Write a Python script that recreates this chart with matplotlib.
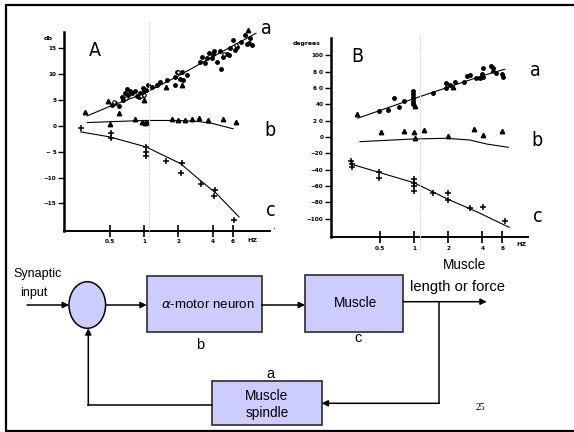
import matplotlib
matplotlib.use('Agg')
import matplotlib.pyplot as plt
from matplotlib.patches import Ellipse, Rectangle
import numpy as np

# ---------------- Panel A : gain (dB) vs frequency (Hz) ----------------
A_a_circ_f = [0.522, 0.639, 0.659, 0.706, 0.73, 0.781, 0.835, 0.864, 0.923, 0.974, 1.05, 1.09,
              1.17, 1.29, 1.38, 1.58, 1.87, 1.93, 2.13, 1.87, 2.36, 3.08, 3.19, 3.53, 3.9, 4.03,
              4.3, 4.6, 4.7, 4.93, 5.27, 5.63, 6.02, 6.45, 7.1, 7.6, 7.9, 8.4, 8.7,
              0.56, 0.6, 0.68, 0.75, 0.9, 0.97, 1.0, 2.05, 2.2, 3.4, 3.7, 4.1, 5.5, 6.2, 8.2]
A_a_circ_db = [3.95, 5.55, 4.9, 7.0, 5.9, 6.2, 6.65, 5.75, 6.2, 7.2, 6.85, 7.8,
               7.5, 7.8, 8.45, 8.8, 9.4, 10.4, 10.4, 7.9, 9.7, 12.3, 13.3, 12.95, 12.95, 13.9,
               12.3, 14.4, 11.0, 13.3, 13.9, 14.9, 16.5, 15.2, 16.2, 17.4, 15.8, 16.8, 15.5,
               4.4, 3.7, 6.2, 6.6, 5.5, 5.9, 6.6, 9.0, 8.8, 12.0, 14.0, 14.3, 13.6, 14.5, 16.0]
A_a_open_f = [0.55, 0.7, 0.95, 1.0, 2.0, 5.0, 6.3]
A_a_open_db = [4.6, 5.4, 5.8, 6.0, 10.4, 13.8, 15.6]
A_a_tri_f = [0.305, 0.488, 0.608, 1.0, 1.56, 2.13, 8.1]
A_a_tri_db = [2.54, 4.72, 2.35, 5.0, 7.5, 7.8, 18.4]
A_a_line_f = [0.32, 0.5, 1.0, 2.0, 4.0, 9.5]
A_a_line_db = [1.9, 3.7, 6.2, 9.6, 13.3, 17.8]

A_b_tri_f = [0.505, 0.835, 0.954, 1.02, 1.07, 1.74, 1.99, 2.29, 2.64, 3.04, 3.65, 4.93, 6.33]
A_b_tri_db = [0.3, 1.2, 0.73, 0.6, 0.73, 1.2, 1.06, 1.06, 1.2, 1.39, 1.06, 1.25, 0.73]
A_b_line_f = [0.32, 1.0, 2.0, 3.0, 4.0, 6.0]
A_b_line_db = [0.6, 1.0, 1.0, 0.8, 0.4, -0.6]

A_c_plus_f = [0.282, 0.515, 0.515, 1.04, 1.04, 1.04, 1.56, 2.13, 2.12, 3.17, 4.17, 4.08, 6.14]
A_c_plus_db = [-0.42, -1.39, -2.47, -4.09, -5.17, -5.88, -6.79, -7.17, -9.1, -11.3, -12.4, -13.6, -18.1]
A_c_line_f = [0.28, 0.5, 1.04, 2.08, 3.08, 4.3, 6.76]
A_c_line_db = [-1.2, -2.16, -4.09, -7.3, -10.5, -13.1, -17.6]

A_yticks = [15, 10, 5, 0, -5, -10, -15]
A_yticklabels = ['15', '10', '5', '0', '\u2212 5', '\u221210', '\u221215']

# ---------------- Panel B : phase (degrees) vs frequency (Hz) ----------------
B_a_circ_f = [0.495, 0.594, 0.666, 0.742, 0.821, 0.974, 0.974, 0.974, 0.974, 0.974, 0.974, 1.48,
              1.91, 1.91, 2.07, 2.30, 2.76, 2.91, 3.11, 3.51, 3.95, 4.03, 3.81, 4.08, 4.74,
              4.94, 5.27, 5.93, 6.04]
B_a_circ_deg = [31.8, 32.7, 47.4, 37.1, 44.5, 56.7, 52.3, 49.4, 46.5, 43.2, 40.0, 54.3,
                65.8, 60.4, 63.7, 67.7, 67.7, 75.1, 75.9, 72.6, 76.8, 84.9, 71.9, 73.9, 87.3,
                84.1, 78.8, 76.8, 73.9]
B_a_tri_f = [0.313, 1.02, 2.22, 4.94]
B_a_tri_deg = [27.8, 38.0, 61.6, 82.0]
B_a_line_f = [0.32, 1.0, 2.0, 4.0, 6.3]
B_a_line_deg = [23, 47, 61, 75, 83]

B_b_tri_f = [0.508, 0.821, 1.0, 1.02, 1.22, 1.98, 3.38, 4.08, 5.99]
B_b_tri_deg = [5.7, 7.7, 5.7, -0.8, 8.6, 1.2, 9.4, 2.4, 7.7]
B_b_line_f = [0.335, 0.99, 1.94, 3.11, 4.37, 6.78]
B_b_line_deg = [-5.7, -2.4, -1.6, -3.7, -8.6, -12.6]

B_c_plus_f = [0.277, 0.283, 0.283, 0.495, 0.495, 1.0, 1.0, 1.0, 1.0, 1.48, 2.0, 2.0, 3.11, 4.03, 6.33]
B_c_plus_deg = [-29.0, -33.1, -36.3, -43.3, -50.6, -51.8, -56.0, -60.0, -65.8, -68.2, -68.2,
                -77.2, -87.3, -85.4, -102.5]
B_c_line_f = [0.277, 1.0, 2.0, 3.57, 6.9]
B_c_line_deg = [-33, -56, -76.3, -91.5, -110.6]

B_yticks = [100, 80, 60, 40, 20, 0, -20, -40, -60, -80, -100]
B_yticklabels = ['100', '8 0', '6 0', '40', '2 0', '0', '\u221220', '\u221240', '\u221260', '\u221280', '\u2212100']

x_ticks = [0.5, 1, 2, 4, 6]
x_ticklabels = ['0.5', '1', '2', '4', '6']

# ---------------- figure ----------------
W, H = 574, 432
fig = plt.figure(figsize=(W / 100, H / 100), dpi=100)
fig.patch.set_facecolor('white')

COND = dict(family='DejaVu Sans', stretch='condensed')
TICKFONT = dict(family='DejaVu Sans', weight='bold', size=4.6, stretch='condensed')


def px_axes(x0, y0, x1, y1):
    return fig.add_axes([x0 / W, 1 - y1 / H, (x1 - x0) / W, (y1 - y0) / H])


def style_axes(ax, ylim, ytop, yticks, yticklabels):
    ax.set_xscale('log')
    ax.set_ylim(*ylim)
    ax.spines['top'].set_visible(False)
    ax.spines['right'].set_visible(False)
    ax.spines['left'].set_linewidth(1.8)
    ax.spines['bottom'].set_linewidth(1.4)
    ax.spines['left'].set_bounds(ylim[0], ytop)
    ax.set_xticks(x_ticks)
    ax.set_xticklabels(x_ticklabels, fontdict=TICKFONT)
    ax.xaxis.set_minor_locator(matplotlib.ticker.NullLocator())
    ax.set_yticks(yticks)
    ax.set_yticklabels(yticklabels, fontdict=TICKFONT)
    ax.tick_params(axis='y', direction='out', length=4.5, width=1.0, pad=1)
    ax.tick_params(axis='x', direction='inout', length=8, width=1.2, pad=2)
    ax.patch.set_alpha(0)


mk = dict(color='black', linestyle='none', clip_on=False)

# Panel A
axA = px_axes(64, 25, 270, 231)
axA.set_xlim(0.2, 12.6)
style_axes(axA, (-20.3, 19.4), 18.0, A_yticks, A_yticklabels)
axA.plot(A_a_line_f, A_a_line_db, color='black', lw=0.8)
axA.plot(A_b_line_f, A_b_line_db, color='black', lw=0.8)
axA.plot(A_c_line_f, A_c_line_db, color='black', lw=0.8)
axA.plot(A_a_circ_f, A_a_circ_db, marker='o', markersize=2.5, **mk)
axA.plot(A_a_open_f, A_a_open_db, marker='o', markersize=2.5, markerfacecolor='white',
         markeredgewidth=0.8, **mk)
axA.plot(A_a_tri_f, A_a_tri_db, marker='^', markersize=3.2, **mk)
axA.plot(A_b_tri_f, A_b_tri_db, marker='^', markersize=3.2, **mk)
axA.plot(A_c_plus_f, A_c_plus_db, marker='+', markersize=4.5, markeredgewidth=1.1, **mk)

# Panel B
axB = px_axes(331, 35, 528, 237.3)
axB.set_xlim(0.186, 10.1)
style_axes(axB, (-122.8, 124.9), 120.9, B_yticks, B_yticklabels)
axB.plot(B_a_line_f, B_a_line_deg, color='black', lw=0.8)
axB.plot(B_b_line_f, B_b_line_deg, color='black', lw=0.8)
axB.plot(B_c_line_f, B_c_line_deg, color='black', lw=0.8)
axB.plot(B_a_circ_f, B_a_circ_deg, marker='o', markersize=2.5, **mk)
axB.plot(B_a_tri_f, B_a_tri_deg, marker='^', markersize=3.2, **mk)
axB.plot(B_b_tri_f, B_b_tri_deg, marker='^', markersize=3.2, **mk)
axB.plot(B_c_plus_f, B_c_plus_deg, marker='+', markersize=4.5, markeredgewidth=1.1, **mk)

# ---------------- overlay: labels, block diagram, slide border ----------------
ov = fig.add_axes([0, 0, 1, 1])
ov.set_xlim(0, W)
ov.set_ylim(H, 0)
ov.axis('off')
ov.patch.set_alpha(0)

# faint scan fold lines
ov.plot([149.3, 149.3], [22, 240], color='#d8d8d8', lw=0.8, ls=(0, (2, 1)))
ov.plot([420, 420], [35, 250], color='#d8d8d8', lw=0.8, ls=(0, (2, 1)))

# panel labels
ov.text(48, 38, 'db', ha='center', va='center', fontsize=4.6, weight='bold')
ov.text(307, 43, 'degrees', ha='center', va='center', fontsize=4.4, weight='bold')
ov.text(95, 51, 'A', ha='center', va='center', fontsize=14, **COND)
ov.text(357, 56, 'B', ha='center', va='center', fontsize=14, **COND)
for (x, y, s) in [(266, 29, 'a'), (270, 131, 'b'), (271, 210, 'c'),
                  (535, 70, 'a'), (537, 141, 'b'), (538, 217, 'c')]:
    ov.text(x, y, s, ha='center', va='center', fontsize=14, **COND)
ov.text(275, 226, '.', ha='center', va='center', fontsize=7)
ov.text(252.7, 240.5, 'HZ', ha='center', va='center', fontsize=4.6, weight='bold')
ov.text(521.7, 245, 'HZ', ha='center', va='center', fontsize=4.6, weight='bold')

# block diagram
SANS = 'Liberation Sans'
BOX_FC = '#ccccff'
BOX_EC = '#3a3a3a'
arrow = dict(arrowstyle='-|>', color='black', lw=1.1, mutation_scale=9, shrinkA=0, shrinkB=0)

ov.add_patch(Ellipse((87.3, 305), 36.6, 46.6, facecolor=BOX_FC, edgecolor='black', lw=1.1))
ov.add_patch(Rectangle((146.7, 276), 115, 55.7, facecolor=BOX_FC, edgecolor=BOX_EC, lw=1.3))
ov.add_patch(Rectangle((305, 275), 98.3, 56.7, facecolor=BOX_FC, edgecolor=BOX_EC, lw=1.3))
ov.add_patch(Rectangle((211.7, 381), 110, 44, facecolor=BOX_FC, edgecolor=BOX_EC, lw=1.3))

ov.annotate('', xy=(69, 305), xytext=(27, 305), arrowprops=arrow)
ov.annotate('', xy=(146.7, 305), xytext=(105.6, 305), arrowprops=arrow)
ov.annotate('', xy=(305, 305), xytext=(261.7, 305), arrowprops=arrow)
ov.annotate('', xy=(486.7, 301.7), xytext=(403.3, 301.7), arrowprops=arrow)
ov.plot([439.3, 439.3], [301.7, 403.3], color='black', lw=1.1)
ov.annotate('', xy=(321.7, 403.3), xytext=(439.3, 403.3), arrowprops=arrow)
ov.plot([211.7, 88.3], [405, 405], color='black', lw=1.1)
ov.annotate('', xy=(88.3, 328.3), xytext=(88.3, 405.5), arrowprops=arrow)

ov.text(13, 274, 'Synaptic', ha='left', va='center', fontsize=9, family=SANS)
ov.text(20, 293, 'input', ha='left', va='center', fontsize=9, family=SANS)
ov.text(208, 305, r'$\alpha$-motor neuron', ha='center', va='center', fontsize=9.6, family=SANS)
ov.text(355.5, 303, 'Muscle', ha='center', va='center', fontsize=9.8, family=SANS)
ov.text(464, 265, 'Muscle', ha='center', va='center', fontsize=9.8, family=SANS)
ov.text(458, 287, 'length or force', ha='center', va='center', fontsize=10.6, family=SANS)
ov.text(200, 345, 'b', ha='center', va='center', fontsize=10.5, family=SANS)
ov.text(358.3, 338, 'c', ha='center', va='center', fontsize=10.5, family=SANS)
ov.text(270, 374, 'a', ha='center', va='center', fontsize=10.5, family=SANS)
ov.text(267, 395.5, 'Muscle', ha='center', va='center', fontsize=9.8, family=SANS)
ov.text(267, 413.3, 'spindle', ha='center', va='center', fontsize=9.8, family=SANS)
ov.text(480, 407, '25', ha='center', va='center', fontsize=7, family='Liberation Serif')

# slide border
ov.plot([5, W], [5, 5], color='black', lw=1.6, solid_capstyle='butt')
ov.plot([6, 6], [4.3, 431], color='black', lw=1.6, solid_capstyle='butt')
ov.plot([5.3, W], [430.5, 430.5], color='black', lw=1.6, solid_capstyle='butt')

fig.savefig('out.png', dpi=100, facecolor='white')
